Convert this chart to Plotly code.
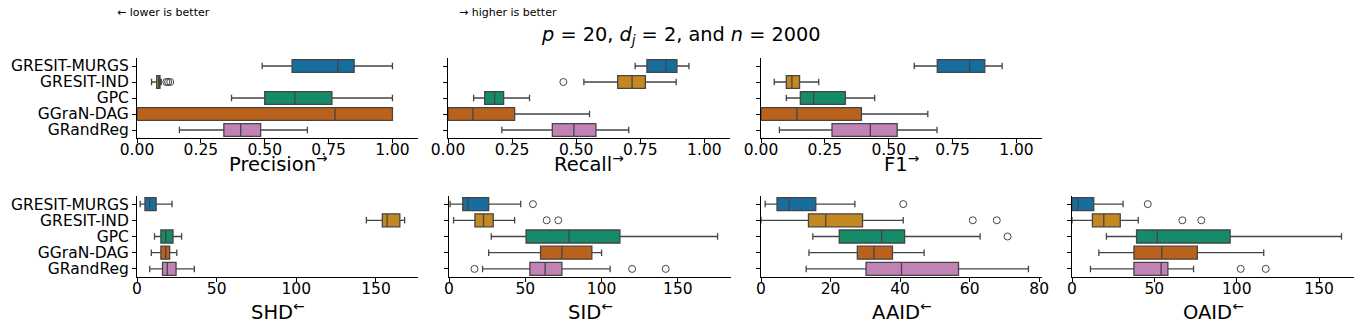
import plotly.graph_objects as go

# methods, top to bottom
methods = ["GRESIT-MURGS", "GRESIT-IND", "GPC", "GGraN-DAG", "GRandReg"]
# seaborn colorblind palette, desaturated like seaborn boxes
colors = ["#176d9c", "#c38820", "#158b6a", "#ba611b", "#c182b5"]

# box stats per metric: lower whisker, q1, median, q3, upper whisker (one value per method)
precision_lo = [0.49, 0.057, 0.37, 0.00, 0.166]
precision_q1 = [0.607, 0.077, 0.50, 0.00, 0.34]
precision_med = [0.786, 0.085, 0.618, 0.775, 0.406]
precision_q3 = [0.85, 0.09, 0.763, 1.00, 0.484]
precision_hi = [1.00, 0.095, 1.00, 1.00, 0.667]
precision_fl_m = ["GRESIT-IND", "GRESIT-IND", "GRESIT-IND"]
precision_fl_v = [0.115, 0.122, 0.13]

recall_lo = [0.73, 0.53, 0.10, 0.00, 0.21]
recall_q1 = [0.776, 0.662, 0.143, 0.00, 0.407]
recall_med = [0.85, 0.718, 0.182, 0.097, 0.491]
recall_q3 = [0.893, 0.77, 0.217, 0.26, 0.577]
recall_hi = [0.94, 0.89, 0.318, 0.552, 0.705]
recall_fl_m = ["GRESIT-IND"]
recall_fl_v = [0.45]

f1_lo = [0.60, 0.052, 0.099, 0.00, 0.072]
f1_q1 = [0.69, 0.099, 0.154, 0.00, 0.278]
f1_med = [0.817, 0.121, 0.206, 0.141, 0.428]
f1_q3 = [0.876, 0.151, 0.33, 0.393, 0.533]
f1_hi = [0.944, 0.226, 0.445, 0.653, 0.689]
f1_fl_m = []
f1_fl_v = []

shd_lo = [2, 144, 11, 9, 8]
shd_q1 = [5, 154, 15, 15, 16]
shd_med = [8, 157, 18, 18, 19]
shd_q3 = [12, 165, 22.6, 20.5, 24.5]
shd_hi = [22, 168, 28, 25, 36]
shd_fl_m = []
shd_fl_v = []

sid_lo = [0.7, 3, 27.7, 26, 22]
sid_q1 = [9, 17, 50.5, 60, 53]
sid_med = [12.3, 22.6, 78.6, 74, 63]
sid_q3 = [26, 29, 112, 93.6, 74]
sid_hi = [47, 43, 176, 100, 105.6]
sid_fl_m = ["GRESIT-MURGS", "GRESIT-IND", "GRESIT-IND", "GRandReg", "GRandReg", "GRandReg"]
sid_fl_v = [55, 64, 71.6, 16.7, 120, 142]

aaid_lo = [1.2, 0, 14.9, 13.8, 13]
aaid_q1 = [4.6, 13.65, 22.5, 27.7, 30.2]
aaid_med = [8.1, 18.6, 34.7, 32.5, 40.4]
aaid_q3 = [15.75, 29.2, 41.3, 37.8, 56.8]
aaid_hi = [27, 40.9, 63, 46.9, 76.9]
aaid_fl_m = ["GRESIT-MURGS", "GRESIT-IND", "GRESIT-IND", "GPC"]
aaid_fl_v = [40.9, 60.9, 67.8, 70.9]

oaid_lo = [0, 0, 20.9, 16.3, 11.2]
oaid_q1 = [0, 12.4, 39.2, 37.6, 37.6]
oaid_med = [3.7, 19.3, 51.8, 54.5, 54.1]
oaid_q3 = [13.2, 29.3, 96, 76.1, 58.2]
oaid_hi = [31, 40.2, 163.6, 116.4, 73.8]
oaid_fl_m = ["GRESIT-MURGS", "GRESIT-IND", "GRESIT-IND", "GRandReg", "GRandReg"]
oaid_fl_v = [46, 67, 78.5, 102.4, 117.6]

# the page body has an 8px margin, so the figure is drawn 8px smaller and placed at (8, 8)
OFF = 8
W, H = 1362 - OFF, 332 - OFF


def fx(px):
    return (px - OFF) / W


def fy(py):
    return 1 - (py - OFF) / H


# panel: title, stats, fliers, x range, tick values, pixel box (left, right, top, bottom) in window px
panels = [
    ("Precision<sup>→</sup>", (precision_lo, precision_q1, precision_med, precision_q3, precision_hi),
     (precision_fl_m, precision_fl_v), [0, 1.1], [0, 0.25, 0.5, 0.75, 1.0], (137, 418, 58, 138)),
    ("Recall<sup>→</sup>", (recall_lo, recall_q1, recall_med, recall_q3, recall_hi),
     (recall_fl_m, recall_fl_v), [0, 1.1], [0, 0.25, 0.5, 0.75, 1.0], (448, 730, 58, 138)),
    ("F1<sup>→</sup>", (f1_lo, f1_q1, f1_med, f1_q3, f1_hi),
     (f1_fl_m, f1_fl_v), [0, 1.1], [0, 0.25, 0.5, 0.75, 1.0], (761, 1042, 58, 138)),
    ("SHD<sup>←</sup>", (shd_lo, shd_q1, shd_med, shd_q3, shd_hi),
     (shd_fl_m, shd_fl_v), [0, 176.4], [0, 50, 100, 150], (137, 418, 196, 277)),
    ("SID<sup>←</sup>", (sid_lo, sid_q1, sid_med, sid_q3, sid_hi),
     (sid_fl_m, sid_fl_v), [0, 184.8], [0, 50, 100, 150], (449, 731, 196, 277)),
    ("AAID<sup>←</sup>", (aaid_lo, aaid_q1, aaid_med, aaid_q3, aaid_hi),
     (aaid_fl_m, aaid_fl_v), [0, 80.8], [0, 20, 40, 60, 80], (761, 1042, 196, 277)),
    ("OAID<sup>←</sup>", (oaid_lo, oaid_q1, oaid_med, oaid_q3, oaid_hi),
     (oaid_fl_m, oaid_fl_v), [0, 171.8], [0, 50, 100, 150], (1072, 1355, 196, 277)),
]

FONT = "DejaVu Sans"
EDGE = "#454545"

fig = go.Figure()
annotations = []
layout = {}

for k, (title, stats, fliers, xr, tv, box) in enumerate(panels):
    n = k + 1
    xa = "x" if n == 1 else "x%d" % n
    ya = "y" if n == 1 else "y%d" % n
    lo, q1, med, q3, hi = stats
    for i, m in enumerate(methods):
        fig.add_trace(go.Box(
            y=[m], lowerfence=[lo[i]], q1=[q1[i]], median=[med[i]], q3=[q3[i]], upperfence=[hi[i]],
            orientation="h", width=0.8, whiskerwidth=0.5,
            fillcolor=colors[i], line=dict(color=EDGE, width=1.3),
            boxpoints=False, showlegend=False, hoverinfo="skip",
            xaxis=xa, yaxis=ya,
        ))
    fm, fv = fliers
    if fv:
        fig.add_trace(go.Scatter(
            x=fv, y=fm, mode="markers",
            marker=dict(symbol="circle-open", size=7, color=EDGE, line=dict(width=1)),
            showlegend=False, hoverinfo="skip", xaxis=xa, yaxis=ya,
        ))

    left, right, top, bottom = box
    dec = tv[-1] <= 1
    layout["xaxis" if n == 1 else "xaxis%d" % n] = dict(
        domain=[fx(left), fx(right)], anchor=ya, range=xr, automargin=False,
        tickmode="array", tickvals=tv,
        ticktext=[("%.2f" % v) if dec else ("%d" % v) for v in tv],
        showline=True, linecolor="black", linewidth=1.1, ticks="outside", ticklen=4,
        tickcolor="black", tickwidth=1, showgrid=False, zeroline=False,
        ticklabelstandoff=-7,
        tickfont=dict(family=FONT, size=15.5, color="black"),
    )
    layout["yaxis" if n == 1 else "yaxis%d" % n] = dict(
        domain=[fy(bottom), fy(top)], anchor=xa, type="category", automargin=False,
        categoryorder="array", categoryarray=methods, range=[4.5, -0.5],
        tickmode="array", tickvals=methods, ticktext=methods,
        showline=True, linecolor="black", linewidth=1.1, ticks="outside", ticklen=4,
        tickcolor="black", tickwidth=1, showgrid=False, zeroline=False,
        showticklabels=(left == 137),
        tickfont=dict(family=FONT, size=15.5, color="black"),
    )
    ty = 163 if top < 100 else 311
    annotations.append(dict(
        text=title, x=fx((left + right) / 2), y=fy(ty), xref="paper", yref="paper",
        xanchor="center", yanchor="middle", showarrow=False,
        font=dict(family=FONT, size=19.5, color="black"),
    ))

annotations.append(dict(
    text="<i>p</i> = 20, <i>d<sub>j</sub></i> = 2, and <i>n</i> = 2000",
    x=fx(681), y=fy(35), xref="paper", yref="paper", xanchor="center", yanchor="middle",
    showarrow=False, font=dict(family=FONT, size=19.3, color="black"),
))
annotations.append(dict(
    text="← lower is better", x=fx(115), y=fy(13), xref="paper", yref="paper",
    xanchor="left", yanchor="middle", showarrow=False,
    font=dict(family=FONT, size=11, color="black"),
))
annotations.append(dict(
    text="→ higher is better", x=fx(457), y=fy(13), xref="paper", yref="paper",
    xanchor="left", yanchor="middle", showarrow=False,
    font=dict(family=FONT, size=11, color="black"),
))

fig.update_layout(
    width=W, height=H, autosize=False,
    margin=dict(l=0, r=0, t=0, b=0),
    paper_bgcolor="white", plot_bgcolor="white",
    boxmode="overlay", annotations=annotations, **layout,
)

fig.write_html("out.html")
